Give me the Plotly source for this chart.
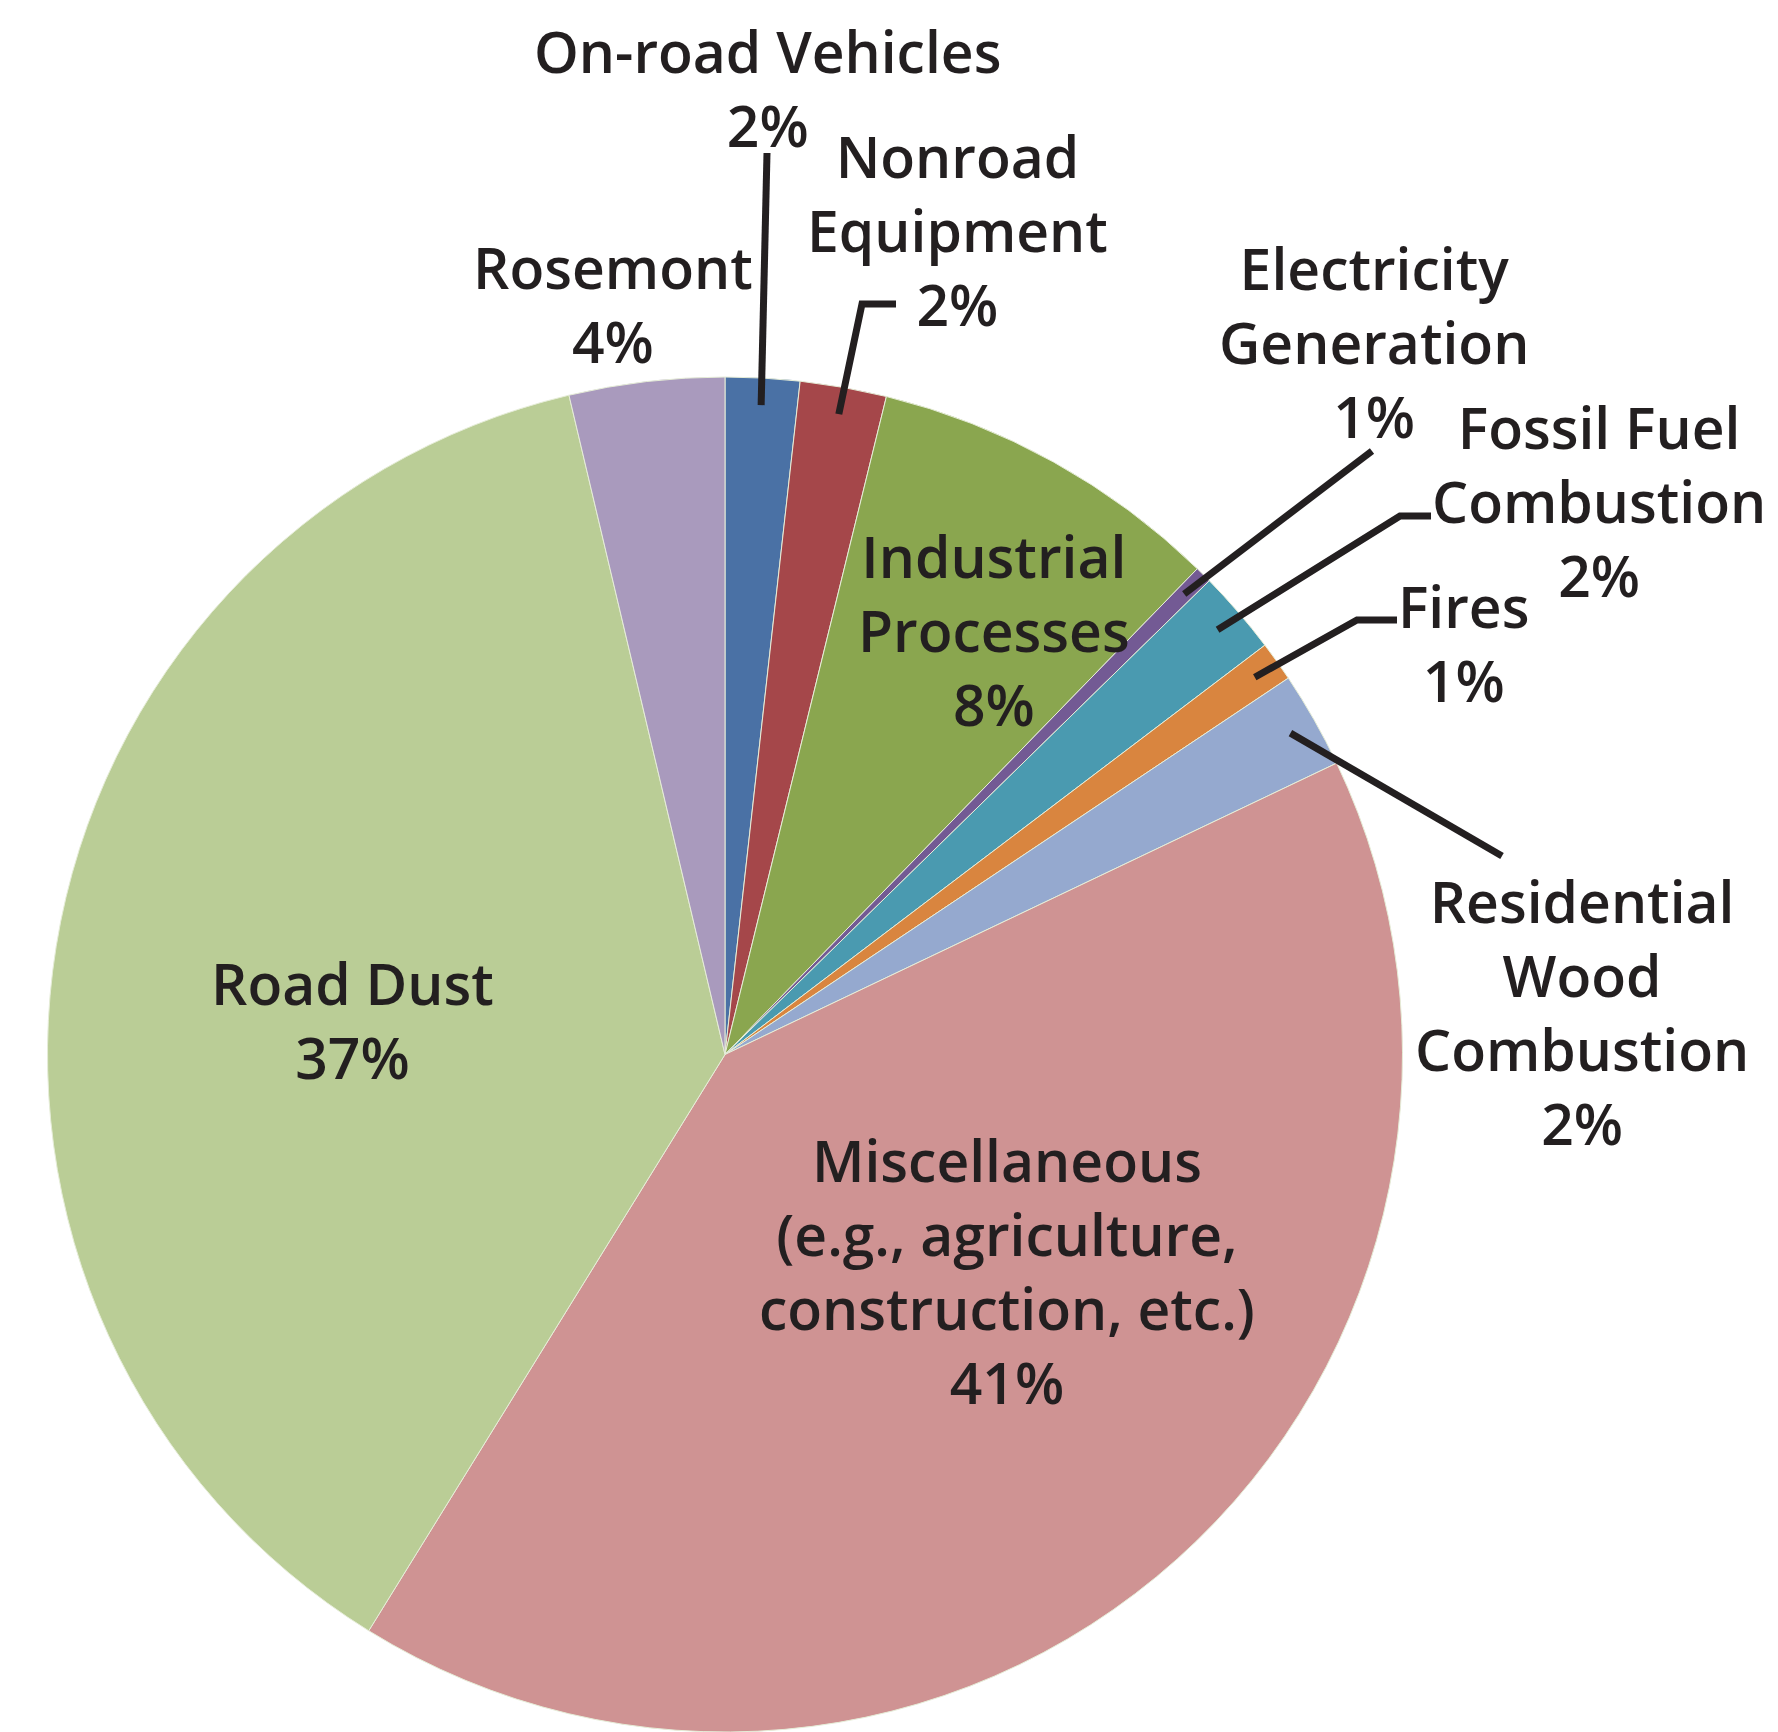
import numpy as np
import plotly.graph_objects as go

W, H = 1778, 1732

# ---- data (clockwise from 12 o'clock) ----
categories = ["On-road Vehicles", "Nonroad Equipment", "Industrial Processes",
              "Electricity Generation", "Fossil Fuel Combustion", "Fires",
              "Residential Wood Combustion",
              "Miscellaneous (e.g., agriculture, construction, etc.)",
              "Road Dust", "Rosemont"]
values = [1.77, 2.06, 8.45, 0.4, 2.0, 0.95, 2.3, 40.9, 37.5, 3.7]
pct_labels = ["2%", "2%", "8%", "1%", "2%", "1%", "2%", "41%", "37%", "4%"]
label_lines = ["On-road Vehicles", "Nonroad<br>Equipment", "Industrial<br>Processes",
               "Electricity<br>Generation", "Fossil Fuel<br>Combustion", "Fires",
               "Residential<br>Wood<br>Combustion",
               "Miscellaneous<br>(e.g., agriculture,<br>construction, etc.)",
               "Road Dust", "Rosemont"]
colors = ["#4A71A5", "#A5474A", "#8AA64F", "#735A94", "#4A9AB0", "#D9853F",
          "#95A9CF", "#CF9393", "#BACD96", "#A99ABD"]

# ---- layout geometry (pixels) ----
CX, CY, R = 725.0, 1054.5, 677.5
dom_x = [(CX - R) / W, (CX + R) / W]
dom_y = [max(0.0, 1 - (CY + R) / H), 1 - (CY - R) / H]

def px(x, y):
    return x / W, 1 - y / H

# label block centres (pixels)
label_pos = [(767, 88), (958, 230), (994, 630), (1374, 342), (1599, 501),
             (1463, 643), (1582, 1012), (1007, 1271), (352, 1020), (613, 304)]
# leader line outer points (pixels) for labelled-outside slices
leader_outer = {
    0: [(767, 153)],
    1: [(862, 304), (896, 304)],
    3: [(1372, 451)],
    4: [(1400, 516), (1431, 516)],
    5: [(1357, 620), (1397, 620)],
    6: [(1502, 856)],
}

fig = go.Figure(go.Pie(
    labels=categories, values=values, sort=False, direction="clockwise",
    rotation=0, textinfo="none", hoverinfo="label+percent",
    marker=dict(colors=colors, line=dict(color="#E6EDD8", width=1)),
    domain=dict(x=dom_x, y=dom_y), showlegend=False,
))

vals = np.array(values, dtype=float)
frac = vals / vals.sum()
cum = np.concatenate([[0], np.cumsum(frac)])
mid = (cum[:-1] + cum[1:]) / 2 * 2 * np.pi

shapes = []
for i, outer in leader_outer.items():
    sx = CX + 0.96 * R * np.sin(mid[i])
    sy = CY - 0.96 * R * np.cos(mid[i])
    pts = [(sx, sy)] + outer
    path = "M " + " L ".join(f"{px(x, y)[0]:.5f},{px(x, y)[1]:.5f}" for x, y in pts)
    shapes.append(dict(type="path", xref="paper", yref="paper", path=path,
                       line=dict(color="#231F20", width=7)))

annotations = []
for i, (x, y) in enumerate(label_pos):
    ax, ay = px(x, y)
    annotations.append(dict(x=ax, y=ay, xref="paper", yref="paper",
                            text=f"{label_lines[i]}<br>{pct_labels[i]}",
                            showarrow=False, xanchor="center", yanchor="middle",
                            align="center",
                            font=dict(family="Open Sans", size=57, weight=600,
                                      color="#231F20")))

fig.update_layout(width=W, height=H, margin=dict(l=0, r=0, t=0, b=0),
                  paper_bgcolor="white", plot_bgcolor="white",
                  shapes=shapes, annotations=annotations)

fig.write_html("out.html", config={"displayModeBar": False},
               post_script="document.body.style.margin='0px';")
